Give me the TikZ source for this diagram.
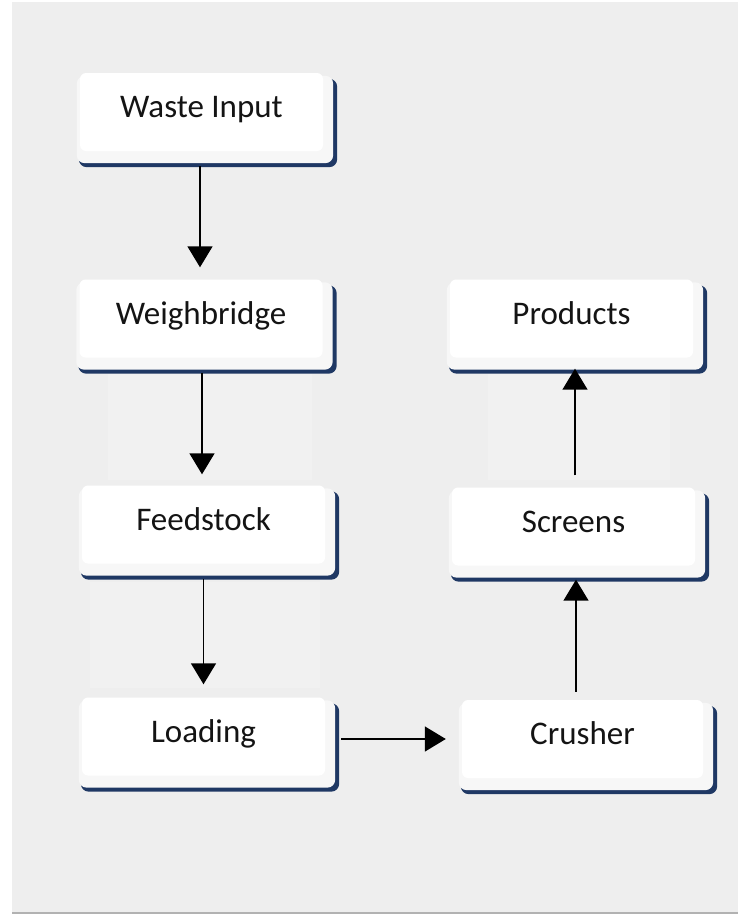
\documentclass[tikz,border=0pt]{standalone}
\usepackage{fontspec}
\setmainfont{Carlito}
\usetikzlibrary{arrows.meta,backgrounds,calc}
\definecolor{bggray}{HTML}{EEEEEE}
\definecolor{navy}{RGB}{31,56,100}
\definecolor{paleedge}{HTML}{F7F7F7}
\definecolor{txt}{HTML}{141414}
\begin{document}
\begin{tikzpicture}[x=1pt,y=-1pt,
  box/.style={fill=white,rounded corners=6pt,minimum width=243pt,minimum height=78pt,
    inner sep=0pt,text height=22pt,text depth=11pt,font=\fontsize{33}{40}\selectfont,text=txt},
  arr/.style={draw=black,line width=1.5pt,-{Triangle[width=25pt,length=21pt]}},
  haze/.style={fill=white,opacity=0.18}]
\useasboundingbox (0,0) rectangle (738,914);
\node[box] (waste) at (201.5,112) {Waste Input};
\node[box] (weigh) at (201,318.5) {Weighbridge};
\node[box] (feed) at (203.5,524.5) {Feedstock};
\node[box] (load) at (203.5,736.5) {Loading};
\node[box] (prod) at (571.5,318.5) {Products};
\node[box] (screens) at (573.5,526.5) {Screens};
\node[box,minimum width=241pt] (crusher) at (582.5,739) {Crusher};
\begin{scope}[on background layer]
  \fill[bggray] (12,2) rectangle (738,912);
  \fill[black!30] (12,912) rectangle (738,914);
  \fill[haze] (108,374) rectangle (312,480);
  \fill[haze] (90,582) rectangle (320,688);
  \fill[haze] (488,374) rectangle (670,480);
  \foreach \n in {waste,weigh,feed,load,prod,screens,crusher}{
    \fill[navy,rounded corners=8pt] ([xshift=-1pt,yshift=-6pt]\n.north west) rectangle ([xshift=14pt,yshift=-16pt]\n.south east);
    \fill[paleedge,rounded corners=8pt] ([xshift=-3pt,yshift=-3pt]\n.north west) rectangle ([xshift=10pt,yshift=-12pt]\n.south east);
  }
\end{scope}
\draw[arr] ($(waste.south)+(-1.5,15)$) -- ($(weigh.north -| waste.south)+(-1.5,-12)$);
\draw[arr] ($(weigh.south)+(1,15)$) -- ($(feed.north -| weigh.south)+(1,-11)$);
\draw[arr] ($(feed.south)+(0,15)$) -- ($(load.north -| feed.south)+(0,-13)$);
\draw[arr] ($(load.east)+(16,2.5)$) -- ($(crusher.west |- load.east)+(-16,2.5)$);
\draw[arr] ($(crusher.north)+(-6.5,-8)$) -- ($(screens.south -| crusher.north)+(-6.5,14)$);
\draw[arr] ($(screens.north)+(1.5,-12)$) -- ($(prod.south -| screens.north)+(1.5,11)$);
\end{tikzpicture}
\end{document}
